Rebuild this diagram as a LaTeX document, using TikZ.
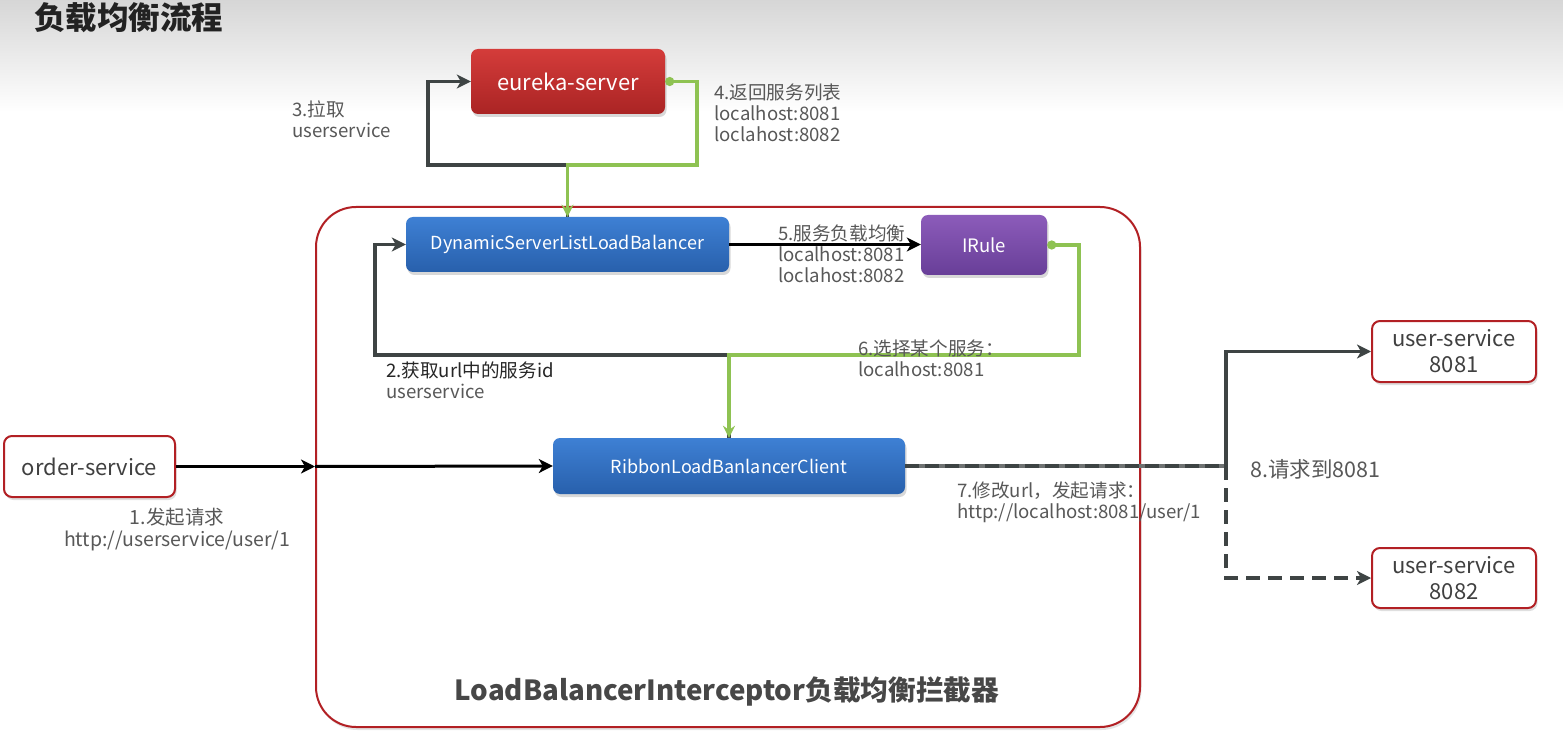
\documentclass[tikz,border=0pt]{standalone}
\usepackage{fontspec}
\setmainfont{Noto Sans CJK SC}
\usetikzlibrary{arrows.meta,shadows,calc}
\definecolor{eutop}{RGB}{212,60,58}
\definecolor{eubot}{RGB}{170,36,36}
\definecolor{bltop}{RGB}{62,128,212}
\definecolor{blbot}{RGB}{40,96,172}
\definecolor{putop}{RGB}{140,92,186}
\definecolor{pubot}{RGB}{104,62,152}
\definecolor{frame}{RGB}{178,32,36}
\definecolor{grn}{RGB}{142,194,82}
\definecolor{dgray}{RGB}{62,68,68}
\definecolor{lgray}{RGB}{110,114,114}
\definecolor{lbl}{RGB}{88,88,88}
\definecolor{ttl}{RGB}{34,34,34}
\tikzset{
  fbox/.style={rounded corners=7pt, text=white, inner sep=0pt,
    drop shadow={shadow xshift=1.5pt, shadow yshift=-3pt, opacity=.3}},
  redbox/.style={fbox, top color=eutop, bottom color=eubot},
  bluebox/.style={fbox, top color=bltop, bottom color=blbot},
  purpbox/.style={fbox, top color=putop, bottom color=pubot},
  wbox/.style={rounded corners=8pt, draw=frame, line width=2pt, fill=white, text=black!75,
    align=center, inner sep=0pt, font=\fontsize{22}{26}\selectfont,
    drop shadow={shadow xshift=1.5pt, shadow yshift=-3pt, opacity=.25}},
  tip/.style={-{Stealth[length=14pt,width=14pt,inset=4pt]}},
  gline/.style={draw=dgray, line width=3.2pt},
  grline/.style={draw=grn, line width=3.2pt},
  bline/.style={draw=black, line width=3pt},
  lab/.style={anchor=west, align=left, inner sep=0pt, text=lbl, font=\fontsize{18.6}{21}\selectfont},
}
\begin{document}
\begin{tikzpicture}[x=1pt,y=-1pt]
\useasboundingbox (0,0) rectangle (1563,743);
\fill[white] (0,0) rectangle (1563,743);
\shade[top color=black!16, bottom color=white] (0,0) rectangle (1563,112);
\node[anchor=west, inner sep=0pt, text=ttl, font=\fontsize{31.5}{34}\selectfont\bfseries] (title) at (34,18) {负载均衡流程};

% container
\node[draw=frame, line width=2pt, fill=white, rounded corners=40pt, minimum width=824pt, minimum height=520pt, inner sep=0pt,
  drop shadow={shadow xshift=1.5pt, shadow yshift=-3pt, opacity=.2}] (cont) at (728,467) {};
\node[inner sep=0pt, text=black!72, font=\fontsize{27.7}{30}\selectfont\bfseries] (ctitle) at (727,692) {LoadBalancerInterceptor负载均衡拦截器};

% boxes
\node[redbox, minimum width=194pt, minimum height=65pt, font=\fontsize{22}{24}\selectfont] (eureka) at (568,81.5) {eureka-server};
\node[bluebox, minimum width=323pt, minimum height=55pt, font=\fontsize{18}{20}\selectfont] (dyn) at (567.5,244.5) {DynamicServerListLoadBalancer};
\node[purpbox, minimum width=126pt, minimum height=60pt, font=\fontsize{18.5}{20}\selectfont] (irule) at (984,245) {IRule};
\node[bluebox, minimum width=352pt, minimum height=56pt, font=\fontsize{18}{20}\selectfont] (ribbon) at (729,466) {RibbonLoadBanlancerClient};
\node[wbox, minimum width=171pt, minimum height=61pt] (order) at (89.5,466.5) {order-service};
\node[wbox, minimum width=164pt, minimum height=61pt] (us1) at (1454,351.5) {user-service\\8081};
\node[wbox, minimum width=164pt, minimum height=60pt] (us2) at (1454,578) {user-service\\8082};

% coordinates
\coordinate (c3) at (428,165);
\coordinate (c4) at (697,165);
\coordinate (c2) at (375,355);
\coordinate (c6) at (1079,355);
\coordinate (c7) at (1226,466);

% 3 pull
\draw[gline, tip] (dyn.north) |- (c3) |- (eureka.west);
% 4 return
\draw[grline, {Circle[length=9pt]}-{Stealth[length=12pt,width=12pt,inset=4pt]}] (eureka.east) -| (c4) -| (dyn.north);
% 5
\draw[bline, tip] (dyn.east) -- (dyn.east -| irule.west);
% 2
\draw[gline, tip] (ribbon.north) |- (c2) |- (dyn.west);
% 6
\draw[grline, {Circle[length=9pt]}-{Stealth[length=12pt,width=12pt,inset=4pt]}] (irule.east) -| (c6) -| (ribbon.north);
% 1
\draw[bline, tip] (order.east) -- (order.east -| cont.west);
\draw[bline, tip] (order.east -| cont.west) -- (ribbon.west);
% 7 / 8
\draw[draw=lgray, line width=3.4pt] (ribbon.east) -- (c7);
\draw[gline, dash pattern=on 14pt off 6pt] (ribbon.east) -- (c7);
\draw[gline, tip] (c7) |- (us1.west);
\draw[gline, dash pattern=on 14pt off 8pt, tip] (c7) |- (us2.west);

% labels
\node[lab] (l3) at (292,119.5) {3.拉取\\userservice};
\node[lab] (l4) at (714,113) {4.返回服务列表\\localhost:8081\\loclahost:8082};
\node[lab] (l5) at (778,253.5) {5.服务负载均衡\\localhost:8081\\loclahost:8082};
\node[lab] (l2) at (386,380) {\textcolor{black!85}{2.获取url中的服务id}\\userservice};
\node[lab] (l6) at (858,358) {6.选择某个服务：\\localhost:8081};
\node[lab, anchor=center, align=center, font=\fontsize{19.5}{22}\selectfont] (l1) at (177,530) {1.发起请求\\http://userservice/user/1};
\node[lab] (l7) at (957,502.5) {7.修改url，发起请求：\\http://localhost:8081/user/1};
\node[lab, font=\fontsize{21.5}{24}\selectfont] (l8) at (1250,469) {8.请求到8081};
\end{tikzpicture}
\end{document}
